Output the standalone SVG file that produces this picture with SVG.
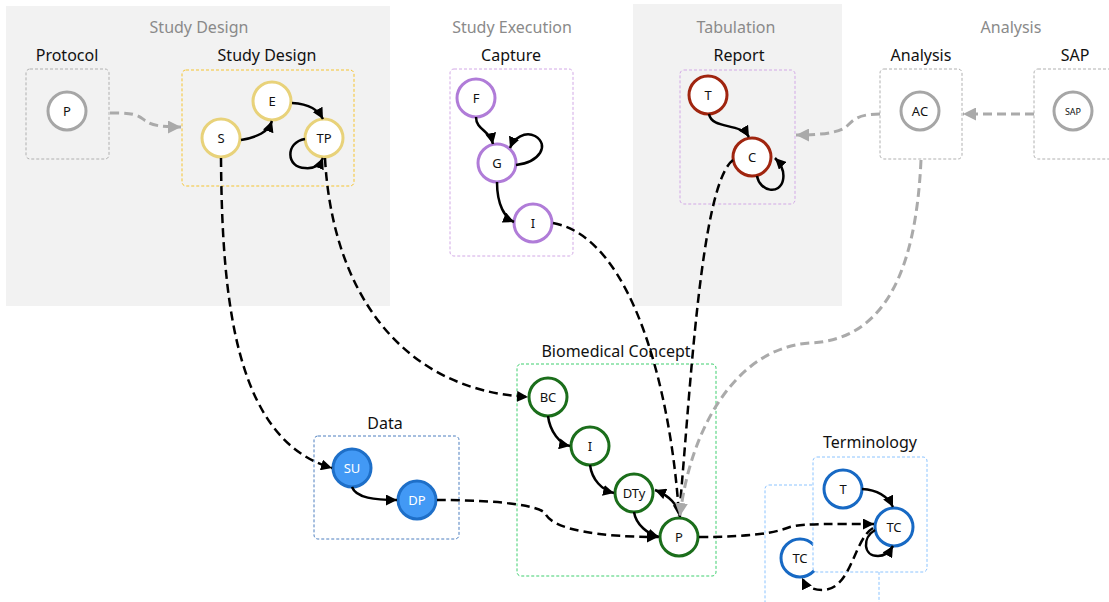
<svg xmlns="http://www.w3.org/2000/svg" width="1109" height="602" viewBox="0 0 1109 602">
<defs>
<style>
text{font-family:"Noto Sans","Open Sans","DejaVu Sans",sans-serif;text-anchor:middle;dominant-baseline:central}
.hdr{font-size:16px;fill:#8a8a8a}
.sub{font-size:16px;fill:#111}
.lbl{font-size:13px;fill:#111}
.box{fill:none;stroke-width:1;stroke-dasharray:3,2}
.nd{fill:#fff;stroke-width:3}
.e{fill:none;stroke:#000;stroke-width:2.5}
.d{fill:none;stroke:#000;stroke-width:2.5;stroke-dasharray:9,5}
.g{fill:none;stroke:#aaa;stroke-width:3;stroke-dasharray:9,5}
</style>
<marker id="ab" viewBox="0 0 10 10" refX="10" refY="5" markerWidth="11" markerHeight="11" markerUnits="userSpaceOnUse" orient="auto"><path d="M0,0 L10,5 L0,10 z" fill="#000"/></marker>
<marker id="ag" viewBox="0 0 10 10" refX="10" refY="5" markerWidth="13" markerHeight="13" markerUnits="userSpaceOnUse" orient="auto"><path d="M0,0 L10,5 L0,10 z" fill="#aaa"/></marker>
</defs>
<rect width="1109" height="602" fill="#fff"/>
<rect x="6" y="6" width="384" height="300" fill="#f2f2f2"/>
<rect x="633" y="4" width="209" height="302" fill="#f2f2f2"/>
<g id="headers">
<text class="hdr" x="199" y="27">Study Design</text>
<text class="hdr" x="512" y="27">Study Execution</text>
<text class="hdr" x="736" y="27">Tabulation</text>
<text class="hdr" x="1011" y="27">Analysis</text>
<text class="sub" x="67" y="55">Protocol</text>
<text class="sub" x="267" y="55">Study Design</text>
<text class="sub" x="511" y="55">Capture</text>
<text class="sub" x="739" y="55">Report</text>
<text class="sub" x="921" y="55">Analysis</text>
<text class="sub" x="1075" y="55">SAP</text>
<text class="sub" x="385" y="423">Data</text>
<text class="sub" x="616" y="351">Biomedical Concept</text>
<text class="sub" x="870" y="442">Terminology</text>
</g>
<g id="boxes">
<rect class="box" x="26" y="69" width="83" height="90" rx="4" stroke="#b0b0b0"/>
<rect class="box" x="182" y="70" width="172" height="116" rx="4" stroke="#f5c431"/>
<rect class="box" x="450" y="69" width="123" height="187" rx="4" stroke="#d2a8e6"/>
<rect class="box" x="680" y="70" width="115" height="134" rx="4" stroke="#d2a8e6"/>
<rect class="box" x="880" y="69" width="82" height="90" rx="4" stroke="#b0b0b0"/>
<rect class="box" x="1034" y="69" width="82" height="90" rx="4" stroke="#b0b0b0"/>
<rect class="box" x="314" y="436" width="145" height="103" rx="4" stroke="#4d7fbf"/>
<rect class="box" x="517" y="364" width="199" height="212" rx="4" stroke="#3ecf6e"/>
<rect class="box" x="765" y="485" width="114" height="125" rx="4" stroke="#8cc4ff"/>
</g>
<g id="node-TC2"><circle class="nd" cx="800" cy="558" r="19" stroke="#1769c4"/><text class="lbl" x="800" y="558">TC</text></g>
<rect x="813" y="457" width="114" height="115" rx="4" fill="#fff" stroke="#8cc4ff" stroke-width="1" stroke-dasharray="3,2"/>
<g id="node-P1"><circle class="nd" cx="67" cy="111" r="19" stroke="#a6a6a6"/><text class="lbl" x="67" y="111">P</text></g>
<g id="node-S"><circle class="nd" cx="221" cy="138" r="19" stroke="#e8d27a"/><text class="lbl" x="221" y="138">S</text></g>
<g id="node-E"><circle class="nd" cx="272" cy="101" r="19" stroke="#e8d27a"/><text class="lbl" x="272" y="101">E</text></g>
<g id="node-TP"><circle class="nd" cx="324" cy="138" r="19" stroke="#e8d27a"/><text class="lbl" x="324" y="138">TP</text></g>
<g id="node-F"><circle class="nd" cx="476" cy="98" r="19" stroke="#b07cd8"/><text class="lbl" x="476" y="98">F</text></g>
<g id="node-G"><circle class="nd" cx="497" cy="163" r="19" stroke="#b07cd8"/><text class="lbl" x="497" y="163">G</text></g>
<g id="node-I1"><circle class="nd" cx="533" cy="223" r="19" stroke="#b07cd8"/><text class="lbl" x="533" y="223">I</text></g>
<g id="node-T1"><circle class="nd" cx="708" cy="95" r="19" stroke="#a0250f"/><text class="lbl" x="708" y="95">T</text></g>
<g id="node-C"><circle class="nd" cx="752" cy="157" r="19" stroke="#a0250f"/><text class="lbl" x="752" y="157">C</text></g>
<g id="node-AC"><circle class="nd" cx="920" cy="111" r="19" stroke="#a6a6a6"/><text class="lbl" x="920" y="111">AC</text></g>
<g id="node-SAP"><circle class="nd" cx="1073" cy="111" r="19" stroke="#a6a6a6"/><text class="lbl" x="1073" y="111" style="font-size:9px">SAP</text></g>
<g id="node-SU"><circle cx="352" cy="468" r="19" fill="#4299f5" stroke="#1e6fc8" stroke-width="3"/><text class="lbl" x="352" y="468" style="fill:#fff">SU</text></g>
<g id="node-DP"><circle cx="417" cy="500" r="19" fill="#4299f5" stroke="#1e6fc8" stroke-width="3"/><text class="lbl" x="417" y="500" style="fill:#fff">DP</text></g>
<g id="node-BC"><circle class="nd" cx="548" cy="397" r="19" stroke="#1b6e1b"/><text class="lbl" x="548" y="397">BC</text></g>
<g id="node-I2"><circle class="nd" cx="590" cy="446" r="19" stroke="#1b6e1b"/><text class="lbl" x="590" y="446">I</text></g>
<g id="node-DTy"><circle class="nd" cx="634" cy="493" r="19" stroke="#1b6e1b"/><text class="lbl" x="634" y="493">DTy</text></g>
<g id="node-P2"><circle class="nd" cx="679" cy="537" r="19" stroke="#1b6e1b"/><text class="lbl" x="679" y="537">P</text></g>
<g id="node-T2"><circle class="nd" cx="843" cy="489" r="19" stroke="#1769c4"/><text class="lbl" x="843" y="489">T</text></g>
<g id="node-TC1"><circle class="nd" cx="894" cy="527" r="19" stroke="#1769c4"/><text class="lbl" x="894" y="527">TC</text></g>
<g id="connectors">
<path class="g" marker-end="url(#ag)" d="M110,113 C140,112 140,118 146,121 C152,126 165,127 181,127"/>
<path class="g" marker-end="url(#ag)" d="M1034,114 L963,114"/>
<path class="g" marker-end="url(#ag)" d="M880,114 C855,114 852,122 846,127 C836,134 815,135 796,135"/>
<path class="e" marker-end="url(#ab)" d="M241,140 C258,137 268,132 272,121"/>
<path class="e" marker-end="url(#ab)" d="M292,103 C310,104 318,110 323,119"/>
<path class="e" marker-end="url(#ab)" d="M305,139 C285,142 286,168 305,168 C315,169 320,165 323,158"/>
<path class="e" marker-end="url(#ab)" d="M476,117 C476,130 490,130 493,144"/>
<path class="e" marker-end="url(#ab)" d="M516,165 C540,162 550,145 535,136 C525,131 514,138 510,148"/>
<path class="e" marker-end="url(#ab)" d="M497,182 C497,205 505,218 514,222"/>
<path class="e" marker-end="url(#ab)" d="M709,114 C712,130 740,122 749,137"/>
<path class="e" marker-end="url(#ab)" d="M757,176 C760,192 780,195 783,180 C785,170 780,163 775,158"/>
<path class="e" marker-end="url(#ab)" d="M352,487 C356,498 375,500 397,500"/>
<path class="e" marker-end="url(#ab)" d="M548,416 C550,432 560,444 570,446"/>
<path class="e" marker-end="url(#ab)" d="M590,465 C592,480 602,490 614,493"/>
<path class="e" marker-end="url(#ab)" d="M634,512 C636,525 648,534 659,537"/>
<path class="e" marker-end="url(#ab)" d="M680,517 C679,505 668,495 655,490"/>
<path class="e" marker-end="url(#ab)" d="M862,489 C878,490 888,497 893,507"/>
<path class="e" marker-end="url(#ab)" d="M875,530 C862,538 863,556 878,556 C886,556 890,551 893,546"/>
<path class="d" marker-end="url(#ab)" d="M221,158 C222,300 235,440 332,468"/>
<path class="d" marker-end="url(#ab)" d="M325,158 C332,290 400,390 528,397"/>
<path class="d" marker-end="url(#ab)" d="M437,500 C480,500 535,503 545,513 C552,530 600,537 658,537"/>
<path class="d" marker-end="url(#ab)" d="M553,223 C635,238 672,400 679,516"/>
<path class="d" marker-end="url(#ab)" d="M733,160 C700,185 690,400 679,516"/>
<path class="g" marker-end="url(#ag)" d="M921,160 C916,270 885,340 810,343 C735,348 690,430 680,516"/>
<path class="d" marker-end="url(#ab)" d="M699,537 C750,537 775,533 790,527 C805,523 840,524 874,524"/>
<path class="d" marker-end="url(#ab)" d="M873,528 C853,540 852,590 822,590 C812,590 806,586 802,578"/>
</g>
</svg>
